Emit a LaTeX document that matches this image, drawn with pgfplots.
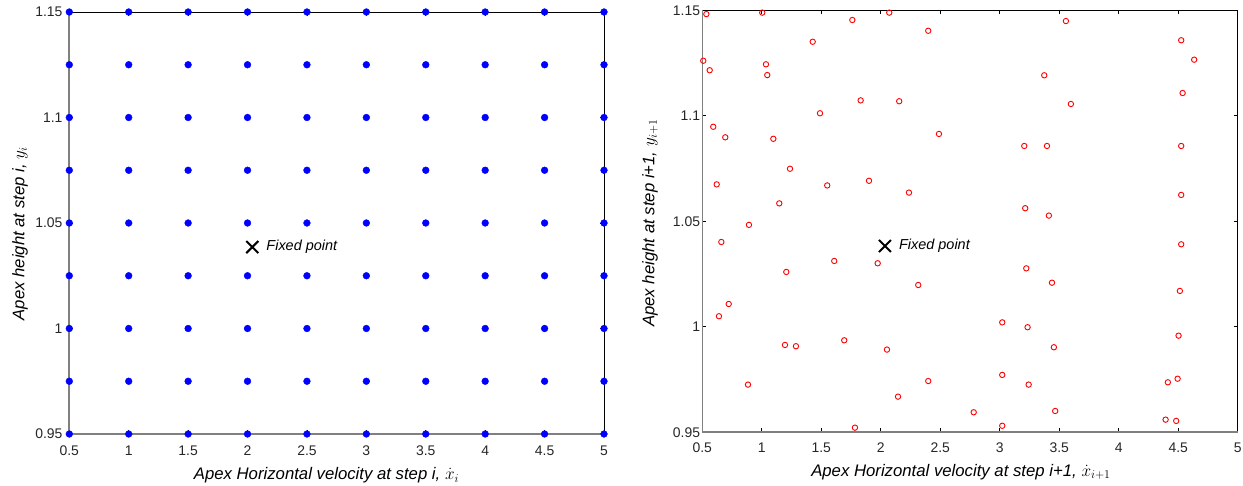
\documentclass[border=0pt]{standalone}
\usepackage{fontspec}
\setmainfont{Liberation Sans}
\usepackage{pgfplots}
\usepackage{pgfplotstable}
\pgfplotsset{compat=1.18}
\pgfplotstableread{
x y
0.5 0.95
1 0.95
1.5 0.95
2 0.95
2.5 0.95
3 0.95
3.5 0.95
4 0.95
4.5 0.95
5 0.95
0.5 0.975
1 0.975
1.5 0.975
2 0.975
2.5 0.975
3 0.975
3.5 0.975
4 0.975
4.5 0.975
5 0.975
0.5 1.0
1 1.0
1.5 1.0
2 1.0
2.5 1.0
3 1.0
3.5 1.0
4 1.0
4.5 1.0
5 1.0
0.5 1.025
1 1.025
1.5 1.025
2 1.025
2.5 1.025
3 1.025
3.5 1.025
4 1.025
4.5 1.025
5 1.025
0.5 1.05
1 1.05
1.5 1.05
2 1.05
2.5 1.05
3 1.05
3.5 1.05
4 1.05
4.5 1.05
5 1.05
0.5 1.075
1 1.075
1.5 1.075
2 1.075
2.5 1.075
3 1.075
3.5 1.075
4 1.075
4.5 1.075
5 1.075
0.5 1.1
1 1.1
1.5 1.1
2 1.1
2.5 1.1
3 1.1
3.5 1.1
4 1.1
4.5 1.1
5 1.1
0.5 1.125
1 1.125
1.5 1.125
2 1.125
2.5 1.125
3 1.125
3.5 1.125
4 1.125
4.5 1.125
5 1.125
0.5 1.15
1 1.15
1.5 1.15
2 1.15
2.5 1.15
3 1.15
3.5 1.15
4 1.15
4.5 1.15
5 1.15
}\gridtable
\pgfplotstableread{
x y
0.534 1.1482
1.004 1.1489
1.761 1.1454
2.071 1.1489
2.399 1.1403
1.428 1.1351
0.508 1.1261
1.035 1.1244
0.562 1.1216
1.046 1.1193
1.831 1.1073
2.155 1.1069
1.489 1.1012
0.592 1.0948
0.693 1.0898
1.097 1.0891
2.489 1.0914
1.237 1.0749
1.901 1.0692
1.550 1.0670
0.621 1.0675
2.237 1.0636
1.147 1.0585
0.892 1.0483
0.660 1.0402
1.609 1.0312
1.974 1.0301
1.206 1.0260
2.315 1.0198
0.722 1.0108
0.640 1.0050
1.195 0.9914
1.287 0.9908
1.693 0.9936
2.052 0.9892
0.884 0.9726
2.399 0.9743
2.145 0.9669
1.783 0.9522
3.556 1.1449
4.525 1.1358
4.634 1.1266
3.374 1.1192
4.537 1.1108
3.598 1.1056
3.206 1.0857
3.397 1.0857
4.525 1.0857
4.525 1.0625
3.214 1.0562
3.413 1.0527
4.525 1.0391
3.223 1.0277
3.439 1.0209
4.514 1.0170
3.021 1.0021
3.234 0.9998
4.503 0.9958
3.455 0.9903
3.021 0.9772
3.243 0.9726
4.413 0.9737
4.495 0.9754
2.781 0.9595
3.466 0.9601
3.021 0.9531
4.394 0.9560
4.483 0.9554
}\nexttable
\begin{document}
\begin{tikzpicture}
\useasboundingbox (0bp,0bp) rectangle (1243bp,486bp);
\pgfplotsset{
  mystyle/.style={
    scale only axis, width=534.7bp, height=422bp, anchor=south west,
    xmin=0.5, xmax=5, ymin=0.95, ymax=1.15,
    xtick={0.5,1,1.5,2,2.5,3,3.5,4,4.5,5},
    ytick={0.95,1,1.05,1.1,1.15},
    tick align=inside, major tick length=4bp,
    axis line style={black, line width=0.6bp},
    tick style={black, line width=0.6bp},
    ticklabel style={font=\fontsize{14}{16}\selectfont, text=black!85, inner sep=0pt},
    /pgf/number format/assume math mode=true,
    clip=false,
  }
}
% ---------- left ----------
\begin{axis}[mystyle, at={(69.3bp,52bp)},
  yticklabel style={anchor=east, xshift=-6.6bp},
  xticklabel style={anchor=north, yshift=-12bp},
  xlabel={Apex Horizontal velocity at step i, $\dot{x}_i$},
  ylabel={Apex height at step i, $y_i$},
  every axis x label/.style={at={(axis description cs:0.481,-0.109)}, anchor=base, inner sep=0pt, font=\fontsize{16.8}{19}\selectfont\itshape},
  every axis y label/.style={at={(axis description cs:-0.08397,0.475)}, rotate=90, anchor=base, inner sep=0pt, font=\fontsize{16.8}{19}\selectfont\itshape},
]
\draw[black!50, line width=1.6bp] (rel axis cs:0,1) -- (rel axis cs:0,0) -- (rel axis cs:1,0);
\addplot[only marks, mark=*, mark size=3.4bp, blue, mark options={fill=blue, draw=blue}] table[x=x,y=y] {\gridtable};
\addplot[only marks, mark=x, mark size=8.5bp, line width=2bp, black] coordinates {(2.04,1.0386)};
\node[anchor=west, inner sep=0pt, xshift=14bp, font=\fontsize{14.5}{17}\selectfont\itshape] at (axis cs:2.04,1.0386) {Fixed point};
\end{axis}
% ---------- right ----------
\begin{axis}[mystyle, at={(702.3bp,53.7bp)}, width=535.4bp,
  yticklabel style={anchor=east, xshift=-2bp},
  xticklabel style={anchor=north, yshift=-10bp},
  xlabel={Apex Horizontal velocity at step i+1, $\dot{x}_{i+1}$},
  ylabel={Apex height at step i+1, $y_{i+1}$},
  every axis x label/.style={at={(axis description cs:0.483,-0.1036)}, anchor=base, inner sep=0pt, font=\fontsize{16.8}{19}\selectfont\itshape},
  every axis y label/.style={at={(axis description cs:-0.08947,0.496)}, rotate=90, anchor=base, inner sep=0pt, font=\fontsize{16.8}{19}\selectfont\itshape},
]
\draw[black!50, line width=1.6bp] (rel axis cs:0,1) -- (rel axis cs:0,0) -- (rel axis cs:1,0);
\addplot[only marks, mark=o, mark size=2.7bp, red, line width=0.9bp] table[x=x,y=y] {\nexttable};
\addplot[only marks, mark=x, mark size=8.5bp, line width=2bp, black] coordinates {(2.035,1.0383)};
\node[anchor=west, inner sep=0pt, xshift=14bp, font=\fontsize{14.5}{17}\selectfont\itshape] at (axis cs:2.035,1.0383) {Fixed point};
\end{axis}
\end{tikzpicture}
\end{document}
